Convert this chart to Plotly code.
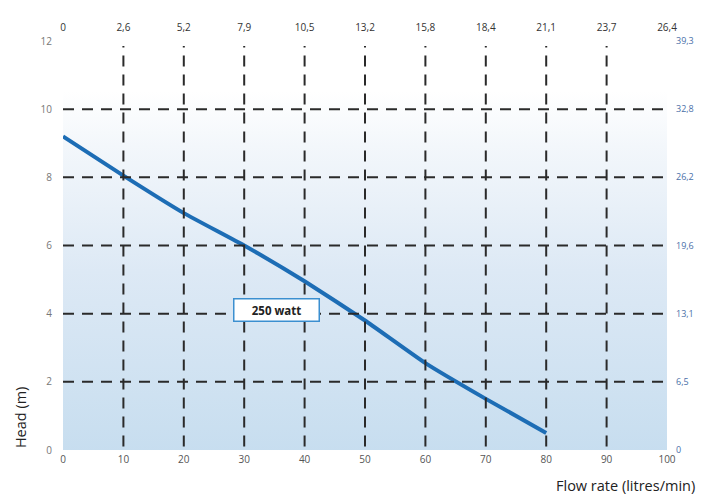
import plotly.graph_objects as go

flow = [0, 10, 20, 30, 40, 50, 60, 70, 80]
head = [9.2, 8.05, 6.95, 6.0, 4.95, 3.8, 2.55, 1.5, 0.5]

bottom_ticks = [0, 10, 20, 30, 40, 50, 60, 70, 80, 90, 100]
top_ticktext = ["0", "2,6", "5,2", "7,9", "10,5", "13,2", "15,8", "18,4", "21,1", "23,7", "26,4"]
left_ticks = [0, 2, 4, 6, 8, 10, 12]
right_ticktext = ["0", "6,5", "13,1", "19,6", "26,2", "32,8", "39,3"]
vgrid = [10, 20, 30, 40, 50, 60, 70, 80, 90]
hgrid = [2, 4, 6, 8, 10]

label_text = "250 watt"
label_pos = (35.3, 4.1)

FONT = "Open Sans"

fig = go.Figure()

# background gradient
fig.add_trace(go.Scatter(
    x=[0, 100, 100, 0, 0], y=[0, 0, 12, 12, 0],
    mode="lines", line=dict(width=0), fill="toself",
    fillgradient=dict(type="vertical", start=0, stop=12,
                      colorscale=[[0, "#c6ddef"], [0.45, "#dde9f5"], [0.75, "#f3f7fb"], [0.88, "#ffffff"], [1, "#ffffff"]]),
    hoverinfo="skip", showlegend=False))

fig.add_trace(go.Scatter(
    x=flow, y=head, mode="lines",
    line=dict(color="#1d6db5", width=4, shape="spline", smoothing=0.4),
    showlegend=False))

# invisible traces for secondary axes
fig.add_trace(go.Scatter(x=[0, 100], y=[0, 12], xaxis="x2", yaxis="y2",
                         mode="markers", marker=dict(opacity=0), hoverinfo="skip", showlegend=False))

for v in vgrid:
    fig.add_shape(type="line", x0=v, x1=v, y0=0.1, y1=11.85, xref="x", yref="y",
                  line=dict(color="#2a2a2a", width=2, dash="11px,8px"), layer="above")
for h in hgrid:
    fig.add_shape(type="line", x0=0, x1=100, y0=h, y1=h, xref="x", yref="y",
                  line=dict(color="#2a2a2a", width=2, dash="11px,8px"), layer="above")

fig.add_annotation(x=label_pos[0], y=label_pos[1], text="<b>" + label_text + "</b>",
                   showarrow=False, bgcolor="white", bordercolor="#3b8fd0", borderwidth=1.5,
                   borderpad=3, width=78, font=dict(family=FONT, size=11.5, color="#222"))

fig.add_annotation(xref="paper", yref="paper", x=-0.071, y=0.0, xanchor="center", yanchor="bottom",
                   text="Head (m)", textangle=-90, showarrow=False,
                   font=dict(family=FONT, size=14.5, color="#222"))
fig.add_annotation(xref="paper", yref="paper", x=1.05, y=-0.058, xanchor="right", yanchor="top",
                   text="Flow rate (litres/min)", showarrow=False,
                   font=dict(family=FONT, size=14.5, color="#222"))

# page body has an 8px margin, so the figure is sized/offset to compensate
fig.update_layout(
    width=702, height=489,
    margin=dict(l=55, r=43, t=24, b=47),
    paper_bgcolor="white", plot_bgcolor="white",
    font=dict(family=FONT),
    xaxis=dict(range=[0, 100], tickvals=bottom_ticks, showgrid=False, zeroline=False,
               showline=False, ticks="", ticklabelstandoff=2, tickfont=dict(size=10, color="#555")),
    yaxis=dict(range=[0, 12], tickvals=left_ticks, showgrid=False, zeroline=False,
               showline=False, ticks="", ticklabelstandoff=10, tickfont=dict(size=10, color="#777")),
    xaxis2=dict(range=[0, 100], overlaying="x", side="top", tickvals=bottom_ticks,
                ticktext=top_ticktext, showgrid=False, zeroline=False, showline=False,
                ticks="", ticklabelstandoff=7, tickfont=dict(size=10, color="#333")),
    yaxis2=dict(range=[0, 12], overlaying="y", side="right", tickvals=left_ticks,
                ticktext=right_ticktext, showgrid=False, zeroline=False, showline=False,
                ticks="", ticklabelstandoff=8, tickfont=dict(size=9, color="#4a6fa8")),
)

fig.write_html("out.html")
